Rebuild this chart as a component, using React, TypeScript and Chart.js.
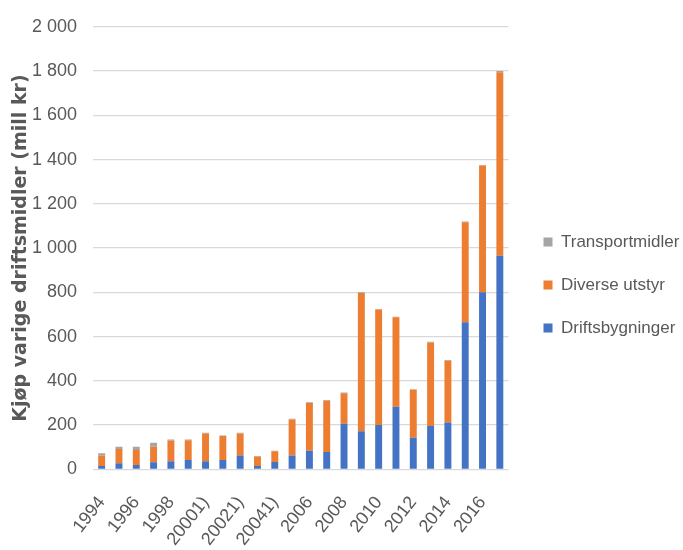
import React, { useEffect, useRef } from "react";
import { Chart, registerables } from "chart.js";

Chart.register(...registerables);

const categories = [
  "1994", "1995", "1996", "1997", "1998", "1999", "20001)", "20011)", "20021)", "20031)",
  "20041)", "2005", "2006", "2007", "2008", "2009", "2010", "2011", "2012", "2013",
  "2014", "2015", "2016", "2017",
];
const driftsbygninger = [15, 27, 20, 32, 36, 42, 36, 42, 62, 15, 33, 62, 84, 78, 206, 172, 200, 283, 143, 196, 212, 665, 800, 965];
const diverseUtstyr = [47, 65, 67, 70, 93, 89, 126, 108, 100, 43, 49, 163, 216, 232, 138, 625, 522, 404, 216, 377, 279, 452, 572, 830];
const transportmidler = [10, 10, 15, 18, 6, 4, 3, 3, 3, 2, 2, 3, 3, 3, 3, 3, 3, 3, 3, 3, 3, 3, 3, 5];

const yTitle = "Kjøp varige driftsmidler (mill kr)";
const FONT = "'Liberation Sans', sans-serif";
const GRAY_TEXT = "#595959";

const legendShift = {
  id: "legendShift",
  afterLayout(chart: any) {
    const l = chart.legend;
    if (l) {
      l.left += 9;
      l.right += 9;
      l.top += 4;
      l.bottom += 4;
    }
  },
};

export default function App() {
  const ref = useRef<HTMLCanvasElement | null>(null);
  useEffect(() => {
    if (!ref.current) return;
    const chart = new Chart(ref.current, {
      type: "bar",
      data: {
        labels: categories,
        datasets: [
          { label: "Driftsbygninger", data: driftsbygninger, backgroundColor: "#4472C4" },
          { label: "Diverse utstyr", data: diverseUtstyr, backgroundColor: "#ED7D31" },
          { label: "Transportmidler", data: transportmidler, backgroundColor: "#A5A5A5" },
        ],
      },
      plugins: [legendShift],
      options: {
        animation: false,
        responsive: true,
        maintainAspectRatio: false,
        layout: { padding: { top: 12, left: 0, right: 5, bottom: 0 } },
        datasets: { bar: { categoryPercentage: 0.8, barPercentage: 0.5 } },
        plugins: {
          tooltip: { enabled: false },
          legend: {
            position: "right",
            reverse: true,
            align: "center",
            labels: {
              boxWidth: 9,
              boxHeight: 9,
              padding: 26,
              color: GRAY_TEXT,
              font: { family: FONT, size: 17 },
            },
          },
        },
        scales: {
          x: {
            stacked: true,
            grid: { display: false },
            border: { display: false },
            afterFit: (s: any) => { s.height = 80.7; },
            ticks: {
              autoSkip: false,
              minRotation: 52,
              maxRotation: 52,
              padding: 15,
              color: GRAY_TEXT,
              font: { family: FONT, size: 18 },
              callback: (_v: any, i: number) => (i % 2 === 0 ? categories[i] : ""),
            },
          },
          y: {
            stacked: true,
            min: 0,
            max: 2000,
            afterFit: (s: any) => { s.width = 93; },
            grid: { color: "#d9d9d9", lineWidth: 1.3, drawTicks: false },
            border: { display: false },
            ticks: {
              stepSize: 200,
              padding: 16,
              color: GRAY_TEXT,
              font: { family: FONT, size: 18 },
              callback: (v: any) => String(v).replace(/\B(?=(\d{3})+(?!\d))/g, " "),
            },
            title: {
              display: true,
              text: yTitle,
              color: GRAY_TEXT,
              padding: { top: 10, bottom: 0 },
              font: { family: "'DejaVu Sans', sans-serif", size: 19, weight: "bold" },
            },
          },
        },
      },
    });
    return () => chart.destroy();
  }, []);
  return (
    <div style={{ position: "fixed", left: 0, top: 0, width: 683, height: 550, background: "#fff" }}>
      <canvas ref={ref} />
    </div>
  );
}
